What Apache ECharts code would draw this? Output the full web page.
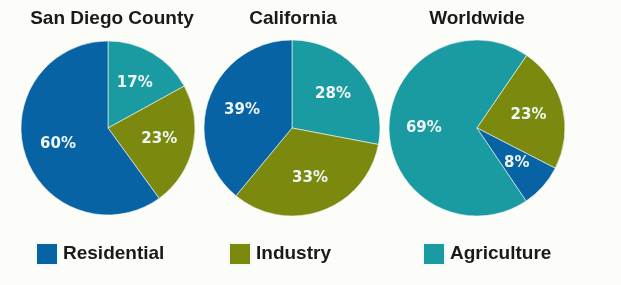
<!DOCTYPE html>
<html>
<head>
<meta charset="utf-8">
<script src="https://cdn.jsdelivr.net/npm/echarts@6/dist/echarts.min.js"></script>
<style>
html,body{margin:0;padding:0;background:#fcfcf8;}
#c{width:621px;height:285px;}
</style>
</head>
<body>
<div id="c"></div>
<script>
const categories = ['Agriculture', 'Industry', 'Residential'];
const regions = ['San Diego County', 'California', 'Worldwide'];
const sanDiego = [17, 23, 60];
const california = [28, 33, 39];
const worldwide = [69, 23, 8];
const legendOrder = ['Residential', 'Industry', 'Agriculture'];

const colors = { Residential: '#0863a5', Industry: '#7b8a0e', Agriculture: '#1a9aa1' };
const values = [sanDiego, california, worldwide];
const centers = [[108, 128], [292, 128], [477, 128]];
const radii = [87, 88, 88];
const starts = [90, 90, -56];
const titleX = [112, 293, 477];

const chart = echarts.init(document.getElementById('c'));
const pies = values.map((vals, i) => ({
  type: 'pie',
  center: centers[i],
  radius: [0, radii[i]],
  startAngle: starts[i],
  clockwise: true,
  silent: true,
  label: { show: false },
  labelLine: { show: false },
  itemStyle: { borderColor: '#f4f8f4', borderWidth: 0.6 },
  emphasis: { disabled: true },
  data: categories.map((c, j) => ({ name: c, value: vals[j], itemStyle: { color: colors[c] } }))
}));
const labelPies = values.map((vals, i) => ({
  type: 'pie',
  center: centers[i],
  radius: [radii[i] * 0.14, radii[i]],
  startAngle: starts[i],
  clockwise: true,
  silent: true,
  z: 5,
  label: {
    show: true, position: 'inside', formatter: '{c}%',
    fontFamily: 'DejaVu Sans', fontWeight: 'bold', fontSize: 15, color: '#eef6f6'
  },
  labelLine: { show: false },
  itemStyle: { color: 'rgba(0,0,0,0)', borderWidth: 0 },
  emphasis: { disabled: true },
  data: categories.map((c, j) => ({ name: c, value: vals[j] }))
}));
const option = {
  backgroundColor: '#fcfcf8',
  animation: false,
  title: regions.map((r, i) => ({
    text: r, left: titleX[i], top: 9, textAlign: 'center', padding: 0,
    textStyle: { fontFamily: 'Liberation Sans', fontWeight: 'bold', fontSize: 19, color: '#1a1a1a' }
  })),
  legend: legendOrder.map((n, i) => ({
    data: [n], left: [35, 228, 422][i], top: 242, padding: 0,
    icon: 'rect', itemWidth: 22, itemHeight: 22, itemGap: 0,
    textStyle: { fontFamily: 'Liberation Sans', fontWeight: 'bold', fontSize: 19, color: '#1a1a1a' }
  })),
  series: pies.concat(labelPies)
};
chart.setOption(option);
</script>
</body>
</html>
